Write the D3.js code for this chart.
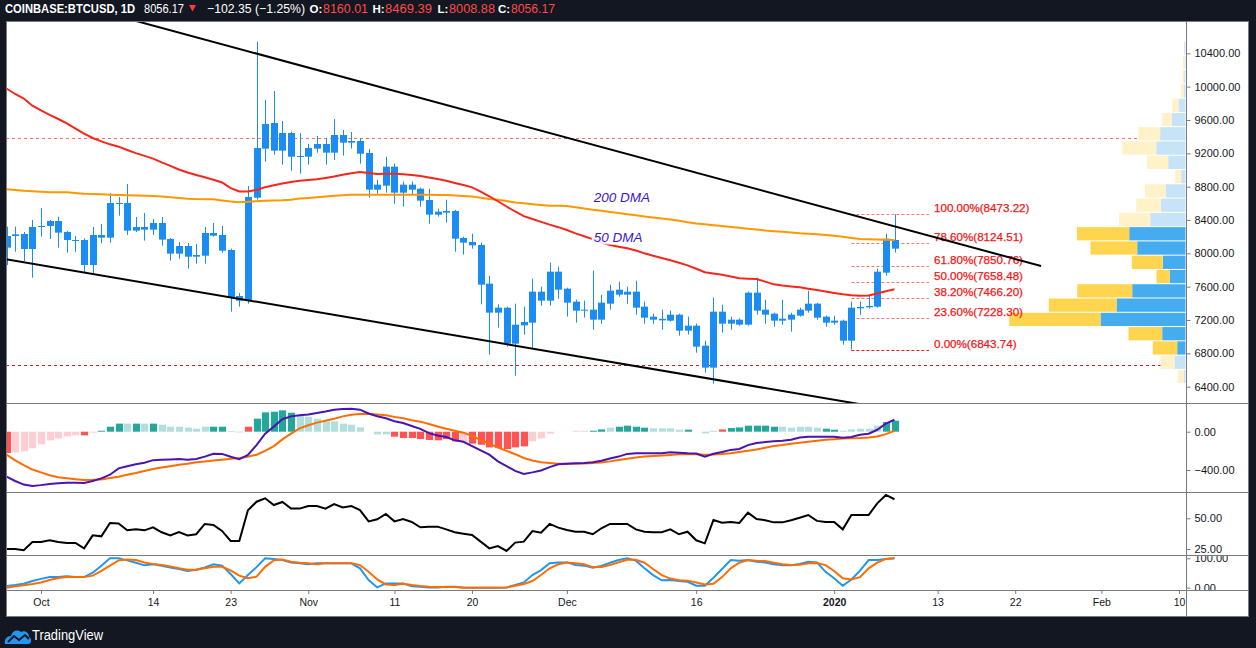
<!DOCTYPE html>
<html><head><meta charset="utf-8">
<script src="https://cdn.jsdelivr.net/npm/d3@7"></script>
<style>
html,body{margin:0;padding:0;background:#131722;}
svg{display:block;}
</style></head><body>
<svg id="chart" width="1256" height="648"></svg>
<script>
// ---------------- DATA ----------------
const symbol = "COINBASE:BTCUSD, 1D";
const firstDate = "2019-09-27";
const open = [8068,8208,8232,8052,8316,8328,8388,8256,8160,8160,7860,8220,8188,8604,8604,8272,8316,8284,8364,8172,7996,8088,7960,7972,8244,8220,8040,7488,7432,8668,9256,9564,9232,9444,9160,9160,9256,9312,9208,9420,9328,9348,9204,8764,8812,9040,8728,8824,8776,8640,8464,8488,8508,8184,8136,8100,7636,7288,7348,6916,7136,7168,7540,7432,7780,7576,7420,7312,7324,7204,7396,7564,7504,7540,7360,7240,7196,7192,7264,7072,7132,6892,6628,7300,7156,7204,7144,7528,7324,7276,7192,7204,7252,7312,7396,7240,7168,7192,6952,7340,7352,7360,7768,8160.01];
const high = [8320,8320,8256,8400,8544,8400,8440,8270,8208,8180,8316,8352,8724,8676,8832,8436,8484,8412,8436,8184,8136,8124,8112,8316,8364,8328,8056,7524,8808,10540,9840,9948,9588,9460,9444,9312,9408,9384,9612,9480,9456,9384,9252,8884,9160,9076,8860,8860,8788,8776,8536,8644,8520,8200,8236,8128,7732,7388,7360,7396,7360,7696,7600,7888,7840,7588,7444,7432,7792,7504,7624,7660,7600,7672,7420,7276,7324,7312,7276,7240,7156,6952,7468,7384,7240,7220,7540,7708,7444,7288,7444,7288,7348,7552,7408,7252,7252,7204,7420,7420,7492,7816,8236,8469.39];
const low = [7860,8020,7908,7708,8200,8172,8068,8008,8020,7772,7760,8120,8128,8452,8220,8256,8152,8220,8092,7912,7936,7816,7876,7876,8200,8008,7300,7360,7396,8644,9100,9184,9064,8992,8956,9064,9208,9064,9120,9172,9256,9076,8668,8716,8728,8596,8560,8704,8560,8356,8440,8368,8020,7984,8056,7388,6784,7108,6880,6532,7024,6856,7372,7372,7456,7240,7168,7228,7084,7156,7324,7480,7396,7264,7156,7156,7084,7180,7012,7024,6808,6568,6436,7048,7084,7130,7132,7264,7156,7120,7144,7060,7240,7288,7204,7120,7144,6904,6843.74,7264,7336,7348,7732,8008.88];
const close = [8208,8228,8052,8316,8328,8388,8248,8160,8152,7860,8220,8188,8604,8596,8272,8316,8284,8364,8164,7996,8088,7960,7980,8244,8212,8032,7476,7432,8676,9264,9552,9232,9444,9160,9168,9264,9312,9208,9420,9328,9348,9196,8764,8824,9040,8728,8824,8764,8632,8464,8500,8508,8176,8128,8096,7624,7288,7348,6916,7144,7176,7540,7432,7780,7564,7408,7312,7324,7204,7408,7552,7504,7540,7348,7228,7204,7214,7264,7072,7132,6880,6628,7300,7156,7204,7144,7528,7312,7264,7192,7216,7264,7324,7396,7228,7168,7192,6952,7348,7356,7368,7780,8176,8056.17];
const prevClose = 8158.52;

const ma50 = [9978,9912,9858,9772,9715,9662,9612,9560,9497,9436,9384,9343,9308,9280,9240,9202,9170,9136,9092,9050,9006,8970,8940,8912,8883,8850,8782,8742,8742,8760,8794,8816,8838,8856,8870,8880,8890,8905,8922,8942,8962,8976,8965,8952,8955,8956,8950,8940,8928,8910,8893,8870,8845,8820,8792,8740,8685,8625,8562,8502,8447,8412,8377,8344,8314,8280,8240,8205,8170,8130,8100,8078,8062,8034,8000,7970,7944,7916,7887,7856,7815,7773,7758,7744,7722,7702,7696,7692,7660,7628,7613,7602,7592,7575,7560,7542,7524,7508,7496,7490,7494,7518,7546,7568];
const ma200 = [8768,8760,8750,8744,8738,8732,8732,8732,8724,8716,8712,8708,8704,8700,8698,8695,8691,8687,8683,8674,8664,8656,8651,8650,8648,8634,8622,8613,8618,8626,8631,8635,8638,8644,8658,8664,8672,8682,8690,8698,8704,8704,8704,8704,8704,8704,8704,8704,8704,8703,8701,8700,8694,8688,8681,8667,8653,8642,8627,8611,8600,8590,8581,8572,8570,8568,8553,8538,8524,8510,8496,8484,8470,8456,8443,8431,8419,8405,8390,8374,8359,8348,8338,8328,8316,8306,8296,8286,8274,8265,8258,8250,8240,8234,8228,8220,8210,8198,8185,8172,8169,8167,8163,8160];

const macd = [-470,-515,-552,-566,-558,-546,-538,-532,-534,-536,-515,-488,-449,-383,-360,-340,-324,-297,-294,-290,-286,-293,-285,-260,-230,-232,-262,-288,-242,-140,-20,53,130,160,172,180,195,210,230,236,240,230,190,162,140,110,90,60,30,-15,-40,-55,-90,-105,-150,-195,-240,-310,-360,-410,-442,-425,-405,-370,-340,-334,-330,-327,-320,-303,-280,-260,-232,-226,-226,-226,-226,-215,-220,-226,-228,-261,-230,-212,-190,-180,-140,-118,-108,-101,-95,-84,-60,-52,-52,-52,-52,-62,-55,-31,-21,20,85,125];
const signal = [-240,-300,-350,-395,-425,-455,-475,-485,-496,-505,-503,-498,-484,-470,-450,-432,-410,-390,-375,-360,-345,-335,-320,-312,-300,-292,-282,-275,-262,-240,-200,-150,-80,-20,35,68,95,115,136,160,177,184,184,180,172,155,140,120,105,80,55,30,10,-10,-45,-85,-125,-165,-200,-235,-275,-300,-320,-328,-334,-334,-334,-333,-328,-322,-310,-295,-282,-270,-260,-255,-248,-243,-236,-233,-236,-240,-238,-233,-225,-212,-200,-185,-168,-150,-140,-125,-115,-104,-95,-85,-78,-72,-69,-66,-60,-49,-25,10];
const hist = [-222,-216,-205,-174,-132,-90,-70,-49,-38,-38,-10,10,52,84,84,84,84,84,73,52,52,42,31,52,52,52,7,-7,52,136,202,209,223,198,177,157,136,108,108,84,73,45,0,-28,-28,-52,-66,-66,-77,-87,-90,-77,-101,-111,-125,-136,-164,-170,-181,-164,-153,-101,-70,-21,0,0,10,10,10,24,42,52,63,52,42,35,35,35,21,21,0,-17,10,24,38,45,63,63,63,52,52,42,52,52,42,31,21,10,24,31,31,63,101,115];
// G grow above, g fall above, R fall below, r grow below
const histKind = "RrrrrrrrrRrGGGgGgGggggggGGggRGGGGGgggggggggggRRRRRRRRrRRRRRRRrrrrrrrGGgGGGGggggGgggRGGGGGGgggggGGgggggGGGGG";

const rsi = [25.0,25.0,24.0,30.7,30.7,32.1,30.7,29.9,29.9,25.5,36.1,35.3,46.2,45.7,40.2,41.0,40.2,42.7,38.6,36.1,38.8,36.1,37.0,45.4,44.6,39.7,31.5,31.5,56.5,63.5,66.3,60.8,63.3,57.9,57.9,60.0,60.0,57.9,61.6,58.9,60.0,56.7,47.5,49.2,53.5,47.5,49.4,47.0,42.7,43.2,43.2,41.0,38.6,37.5,36.4,31.0,25.5,27.4,23.4,30.2,31.0,39.6,38.3,45.4,42.4,40.5,39.1,39.1,37.0,41.9,45.4,45.4,45.4,41.0,39.1,38.6,38.6,41.0,37.0,39.1,32.1,29.6,48.6,46.4,47.0,46.2,54.6,49.4,48.4,46.7,46.7,48.4,50.5,52.7,47.9,47.0,47.0,41.0,52.7,52.7,52.7,62.2,69.0,65.5];
const stochK = [5.7,9,13.6,22.7,30,36.3,36,38.6,36,36,51,75,100,100,93,85,76,79.5,75,69,63.5,56.7,61,69,79.5,75,46.5,14.7,43,70,100,98,94,86,83,79.5,83,83,83,83,83,66,26,1,14.7,14.7,14.7,4.5,3.4,1,1,3,3,1,0,0,0,0,1,9,18,43,60,83,86,86,77,75,68,74,85,94,100,92,66,43,25,26,22.7,20,6.8,6.8,34,63.5,94,92,94,88,86,79.5,76,76,80.7,88,86,54,32,6.8,28,58,94,94,98,100];
const stochD = [0,4.5,8,12.5,18,26,33,36,36,36,41,57,75,93,96,94,86,81,77,72.5,66,61,61,66,71,71,59,41,32,37.5,71,93,96,88,85,83,79.5,83,83,83,83,77,54,28,11,9,13.6,9,5.7,3.4,2.3,2.3,2.3,0,0,0,0,0,1,6.8,12.5,22.7,43,66,79.5,86,83,79.5,70,70,77,86,95,95,85,63.5,43,31,25,24,18,11,13.6,36,66,85,94,92,91,85,79.5,77,78,83,84,77,57,32,28,36,66,85,98,100];

// volume profile rows, bottom -> top
const vpLow = 6436, vpHigh = 10548;
const vpDown = [6,14,24.4,33.7,91.3,67.7,55,13.3,31,46.7,52.3,31,24.7,20.6,6,21.3,34,22,9.7,6,2.6,1.7,1.6,0.3];
const vpUp   = [1.7,11,8.3,23.3,85,69,53.3,15.7,22.7,48.3,56.3,35.3,24.6,20,4.3,17.3,29.3,25.3,13.6,7,2,1.3,1,1.3];
const valueArea = [2, 10];

const trendUpper = [{date:"2019-10-10", price:10845},{date:"2020-01-25", price:7848}];
const trendLower = [{date:"2019-09-20", price:8051},{date:"2020-01-06", price:6155}];
const hLinePrices = [9388, 6655];
const fibRatios = [1, 0.786, 0.618, 0.5, 0.382, 0.236, 0];
const fibLow = 6843.74, fibHigh = 8473.22;
const fibStart = "2020-01-03", fibEnd = "2020-01-12";
const maLabels = [{text:"200 DMA", date:"2019-12-04", price:8610},{text:"50 DMA", date:"2019-12-04", price:8142}];

const priceTicks = [6400,6800,7200,7600,8000,8400,8800,9200,9600,10000,10400];
const macdTicks = [0,-400];
const rsiTicks = [50,25];
const stochTicks = [100,0];
const timeTickDates = ["2019-10-01","2019-10-14","2019-10-23","2019-11-01","2019-11-11","2019-11-20","2019-12-01","2019-12-16","2020-01-01","2020-01-13","2020-01-22","2020-02-01","2020-02-10"];
const timeTickLabels = ["Oct","14","23","Nov","11","20","Dec","16","2020","13","22","Feb","10"];

// ---------------- LAYOUT ----------------
const W=1256,H=648,L=6,R=1249,T=21,B=617,AX=1186.5;
const P = {main:[T,403], macd:[403,491.5], rsi:[491.5,555], stoch:[555,590]};
const FONT = "'Liberation Sans', Arial, sans-serif";
const parse = s => new Date(s + "T00:00:00Z");
const dates = open.map((_, i) => d3.utcDay.offset(parse(firstDate), i));

const x = d3.scaleUtc().domain([parse("2019-10-01"), parse("2020-02-10")]).range([41,1179]);
const yMain = d3.scaleLinear().domain([6400,10400]).range([386.67,53.33]);
const yMacd = d3.scaleLinear().domain([-400,0]).range([470,431.7]);
const yRsi = d3.scaleLinear().domain([25,50]).range([549,518.3]);
const yStoch = d3.scaleLinear().domain([0,100]).range([587.7,558.3]);

const svg = d3.select("#chart");
svg.append("rect").attr("width",W).attr("height",H).attr("fill","#131722");
svg.append("rect").attr("x",L).attr("y",T).attr("width",R-L).attr("height",B-T).attr("fill","#ffffff");
const defs = svg.append("defs");
function clip(id,x0,y0,x1,y1){defs.append("clipPath").attr("id",id).append("rect").attr("x",x0).attr("y",y0).attr("width",x1-x0).attr("height",y1-y0);return "url(#"+id+")";}

// ---------- main panel ----------
const gm = svg.append("g").attr("clip-path", clip("cm", L, P.main[0], AX, P.main[1]));
hLinePrices.forEach((p,i)=>{
  gm.append("line").attr("x1",L).attr("x2",AX-1).attr("y1",Math.round(yMain(p))+0.5).attr("y2",Math.round(yMain(p))+0.5)
    .attr("stroke", i===0 ? "#ff6a6a" : "#e01b1b").attr("stroke-width",1).attr("stroke-dasharray","3,3");
});

// volume profile
const vpRowH = (vpHigh - vpLow)/vpDown.length;
const vpMax = d3.max(vpDown.map((d,i)=>d+vpUp[i]));
const vpX = d3.scaleLinear().domain([0, vpMax]).range([0, 176.3]);
const vpRight = AX - 1;
vpDown.forEach((dv,i)=>{
  const p0 = vpLow + i*vpRowH, p1 = p0 + vpRowH;
  const y0 = yMain(p1) + 0.5, y1 = yMain(p0) - 0.5;
  const inVA = i>=valueArea[0] && i<=valueArea[1];
  const wU = vpX(vpUp[i]), wD = vpX(dv);
  gm.append("rect").attr("x",vpRight-wU).attr("y",y0).attr("width",wU).attr("height",y1-y0).attr("fill", inVA ? "#45acf0" : "#c6e3f7");
  gm.append("rect").attr("x",vpRight-wU-wD).attr("y",y0).attr("width",wD).attr("height",y1-y0).attr("fill", inVA ? "#ffd54f" : "#fff1c8");
});

// fib
const fibX0 = x(parse(fibStart)), fibX1 = x(parse(fibEnd));
fibRatios.forEach(r=>{
  const p = fibLow + r*(fibHigh-fibLow);
  const yy = Math.round(yMain(p))+0.5;
  gm.append("line").attr("x1",fibX0).attr("x2",fibX1).attr("y1",yy).attr("y2",yy)
    .attr("stroke", r===0 ? "#e01b1b" : "#f77a7a").attr("stroke-width",1).attr("stroke-dasharray","3,2");
  gm.append("text").attr("x",fibX1+5).attr("y",yy-3).attr("font-family",FONT).attr("font-size","11.6px")
    .attr("fill","#f51414").attr("stroke","#f51414").attr("stroke-width",0.25).text((r*100).toFixed(2)+"%("+p.toFixed(2)+")");
});

// candles
const cw = 7;
dates.forEach((d,i)=>{
  const cx = Math.round(x(d))+0.5;
  gm.append("line").attr("x1",cx).attr("x2",cx).attr("y1",yMain(high[i])).attr("y2",yMain(low[i])).attr("stroke","#1a8cf2").attr("stroke-width",1);
  const yt = yMain(Math.max(open[i],close[i])), yb = yMain(Math.min(open[i],close[i]));
  gm.append("rect").attr("x",cx-cw/2).attr("y",yt).attr("width",cw).attr("height",Math.max(1,yb-yt)).attr("fill","#1a8cf2");
});

// moving averages
const lineFn = (arr, ys) => d3.line().x((d,i)=>x(dates[i])).y(d=>ys(d))(arr);
gm.append("path").attr("d",lineFn(ma200,yMain)).attr("fill","none").attr("stroke","#ff9800").attr("stroke-width",2);
gm.append("path").attr("d",lineFn(ma50,yMain)).attr("fill","none").attr("stroke","#f5271c").attr("stroke-width",2);

// trend lines
[trendUpper, trendLower].forEach(t=>{
  gm.append("line").attr("x1",x(parse(t[0].date))).attr("y1",yMain(t[0].price))
    .attr("x2",x(parse(t[1].date))).attr("y2",yMain(t[1].price)).attr("stroke","#000").attr("stroke-width",2);
});

// MA labels
maLabels.forEach(m=>{
  const t = gm.append("text").attr("x",x(parse(m.date))+1).attr("y",yMain(m.price)).attr("font-family",FONT)
    .attr("font-size","13.5px").attr("font-style","italic").attr("fill","#3a14d6").text(m.text);
  const bb = t.node().getBBox();
  gm.insert("rect","text:last-of-type").attr("x",bb.x-2).attr("y",bb.y).attr("width",bb.width+4).attr("height",bb.height)
    .attr("fill","#fff").attr("opacity",0.85);
  t.raise();
});

// ---------- MACD ----------
const gmacd = svg.append("g").attr("clip-path", clip("cmacd", L, P.macd[0], AX, P.macd[1]));
const histColor = {G:"#26a69a", g:"#b2dfdb", R:"#ff5252", r:"#ffcdd2"};
hist.forEach((v,i)=>{
  if (v===0) return;
  const cx = Math.round(x(dates[i]))+0.5;
  const y0 = yMacd(0), y1 = yMacd(v);
  gmacd.append("rect").attr("x",cx-3.6).attr("width",7.2).attr("y",Math.min(y0,y1)).attr("height",Math.abs(y1-y0))
    .attr("fill",histColor[histKind[i]]);
});
gmacd.append("path").attr("d",lineFn(signal,yMacd)).attr("fill","none").attr("stroke","#ff6d00").attr("stroke-width",2);
gmacd.append("path").attr("d",lineFn(macd,yMacd)).attr("fill","none").attr("stroke","#4a14b0").attr("stroke-width",2);

// ---------- RSI ----------
const grsi = svg.append("g").attr("clip-path", clip("crsi", L, P.rsi[0], AX, P.rsi[1]));
grsi.append("path").attr("d",lineFn(rsi,yRsi)).attr("fill","none").attr("stroke","#000").attr("stroke-width",2);

// ---------- Stoch RSI ----------
const gst = svg.append("g").attr("clip-path", clip("cst", L, P.stoch[0], AX, P.stoch[1]));
gst.append("path").attr("d",lineFn(stochK,yStoch)).attr("fill","none").attr("stroke","#2196f3").attr("stroke-width",2);
gst.append("path").attr("d",lineFn(stochD,yStoch)).attr("fill","none").attr("stroke","#ff6d00").attr("stroke-width",2);

// ---------- axes ----------
function rightAxis(scale, ticks, panel, id){
  const g = svg.append("g").attr("clip-path", clip(id, AX, panel[0], R, panel[1])).append("g")
    .attr("transform","translate("+AX+",0)")
    .call(d3.axisRight(scale).tickValues(ticks).tickFormat(d3.format(".2f")).tickSize(4).tickPadding(4));
  g.select(".domain").remove();
  g.selectAll("line").attr("stroke","#787b86");
  g.selectAll("text").attr("font-family",FONT).attr("font-size","11px").attr("fill","#131722");
}
rightAxis(yMain, priceTicks, P.main, "ax1");
rightAxis(yMacd, macdTicks, P.macd, "ax2");
rightAxis(yRsi, rsiTicks, P.rsi, "ax3");
rightAxis(yStoch, stochTicks, P.stoch, "ax4");

const gx = svg.append("g").attr("transform","translate(0,590)")
  .call(d3.axisBottom(x).tickValues(timeTickDates.map(parse)).tickFormat((d,i)=>timeTickLabels[i]).tickSize(4).tickPadding(5));
gx.select(".domain").remove();
gx.selectAll("line").attr("stroke","#787b86");
gx.selectAll("text").attr("font-family",FONT).attr("font-size","10.5px").attr("fill","#131722")
  .attr("font-weight",(d,i)=>timeTickLabels[i]==="2020"?"bold":"normal");

// ---------- borders ----------
const bc = "#7b7b7b";
[P.main[1], P.macd[1], P.rsi[1], P.stoch[1]].forEach(yy=>{
  svg.append("line").attr("x1",L).attr("x2",R).attr("y1",Math.round(yy)+0.5).attr("y2",Math.round(yy)+0.5).attr("stroke",bc).attr("stroke-width",1);
});
svg.append("line").attr("x1",AX).attr("x2",AX).attr("y1",T).attr("y2",B).attr("stroke",bc).attr("stroke-width",1);
svg.append("rect").attr("x",L+0.5).attr("y",T+0.5).attr("width",R-L-1).attr("height",B-T-1).attr("fill","none").attr("stroke",bc);

// ---------- header ----------
const last = close.length-1;
const chg = close[last]-prevClose, pct = chg/prevClose*100;
const fmt2 = d3.format(".2f");
const hdr = svg.append("g").attr("font-family",FONT);
const hy = 12.5;
// fitted segments (forced width)
[
  {t:symbol, x0:5, x1:135, c:"#ffffff", w:"bold", fs:12},
  {t:fmt2(close[last]), x0:144, x1:184, c:"#ffffff", w:"normal", fs:12.5},
  {t:fmt2(chg)+" ("+fmt2(pct)+"%)", x0:207, x1:305, c:"#ffffff", w:"normal", fs:12.5},
  {t:fmt2(open[last]), x0:323, x1:368, c:"#ff4a4a", w:"normal", fs:12.5},
  {t:fmt2(high[last]), x0:385, x1:432, c:"#ff4a4a", w:"normal", fs:12.5},
  {t:fmt2(low[last]), x0:449, x1:495, c:"#ff4a4a", w:"normal", fs:12.5},
  {t:fmt2(close[last]), x0:511, x1:555, c:"#ff4a4a", w:"normal", fs:12.5}
].forEach(it=>hdr.append("text").attr("x",it.x0).attr("y",hy).attr("fill",it.c).attr("font-weight",it.w).attr("font-size",it.fs+"px")
  .attr("textLength",it.x1-it.x0).attr("lengthAdjust","spacingAndGlyphs").text(it.t));
// OHLC keys at natural width
[{t:"O:",x:309.5},{t:"H:",x:372.5},{t:"L:",x:437.5},{t:"C:",x:498}].forEach(k=>
  hdr.append("text").attr("x",k.x).attr("y",hy).attr("fill","#ffffff").attr("font-weight","bold").attr("font-size","11.5px").text(k.t));
svg.append("path").attr("d","M189,5L196,5L192.5,11.5Z").attr("fill","#ff3b3b");

// ---------- logo ----------
const lg = svg.append("g").attr("transform","translate(4,626)");
lg.append("path").attr("d","M1,18 C0,13 3,10 7,10 C8,5 13,3 17,6 C20,4 25,6 25,11 C28,12 28,18 24,18 Z").attr("fill","#2196f3");
lg.append("path").attr("d","M4,16 L10,10 L15,14 L21,9 L25,13").attr("fill","none").attr("stroke","#131722").attr("stroke-width",2);
svg.append("text").attr("x",32).attr("y",640).attr("font-family",FONT).attr("font-size","14px").attr("fill","#ffffff")
  .attr("textLength",71).attr("lengthAdjust","spacingAndGlyphs").text("TradingView");
</script></body></html>
